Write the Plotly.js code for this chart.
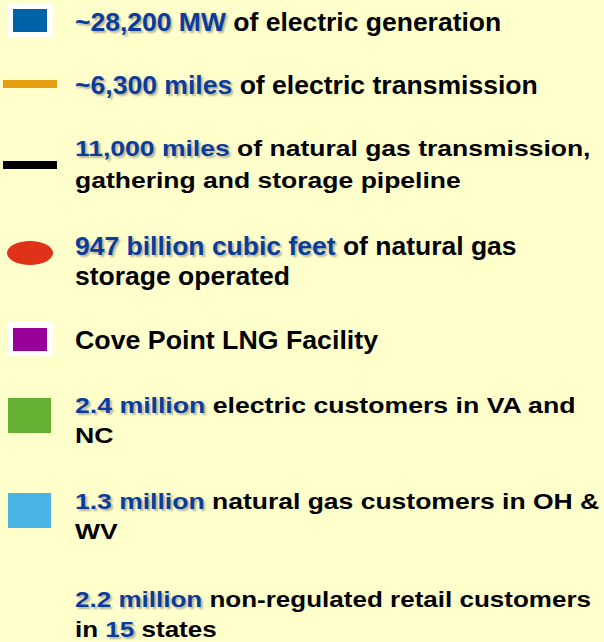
<!DOCTYPE html>
<html>
<head>
<meta charset="utf-8">
<script src="https://cdn.plot.ly/plotly-3.0.1.min.js"></script>
<style>
html,body{margin:0;padding:0;background:#FFFFCC;}
#chart{width:604px;height:642px;}
.annotation-text tspan[style*="fill"]{text-shadow:2px 2px 2px rgba(90,90,90,0.45);}
</style>
</head>
<body>
<div id="chart"></div>
<script>
// ---- data ----
const highlights = ["~28,200 MW", "~6,300 miles", "11,000 miles", "947 billion cubic feet", "", "2.4 million", "1.3 million", "2.2 million"];
const descriptions = [
  " of electric generation",
  " of electric transmission",
  " of natural gas transmission,<br>gathering and storage pipeline",
  " of natural gas<br>storage operated",
  "Cove Point LNG Facility",
  " electric customers in VA and<br>NC",
  " natural gas customers in OH &<br>WV",
  " non-regulated retail customers<br>in {15} states"
];
const symbols = ["boxedSquare", "line", "line", "ellipse", "boxedSquare", "square", "square", "none"];
const symbolColors = ["#0063AA", "#E49E10", "#000000", "#DF3219", "#990099", "#65B033", "#49B5E5", ""];

// ---- layout / style ----
const W = 604, H = 642;
const baselines = [[31], [94], [156, 188], [255, 285], [349], [413, 443], [509, 539], [607, 637]];
const rowFont = [25, 25, 21.5, 25, 25, 21.5, 21.5, 21.5];
const rowStretch = [1.06, 1.063, 1.233, 1.06, 1.07, 1.24, 1.233, 1.21];
const iconY = [20, 84, 165, 253, 339, 415, 510, 0];
const textX = 75;
const blue = "#0A3C9E";
const fontFam = "Liberation Sans, Arial, sans-serif";

function markup(s) {
  return s.replace(/\{(.*?)\}/g, (m, g) => `<span style="color:${blue}">${g}</span>`);
}

const annotations = [];
const annStretch = [];
const shapes = [];
for (let i = 0; i < highlights.length; i++) {
  const lines = descriptions[i].split("<br>");
  const fs = rowFont[i];
  lines.forEach((ln, k) => {
    let txt = markup(ln);
    if (k === 0 && highlights[i]) txt = `<span style="color:${blue}">${highlights[i]}</span>` + txt;
    annotations.push({x: textX, y: baselines[i][k] - 0.905 * fs, xref: "x", yref: "y", text: `<b>${txt}</b>`,
      showarrow: false, xanchor: "left", yanchor: "top", align: "left", borderpad: 0, borderwidth: 0,
      font: {family: fontFam, size: fs, color: "#000"}});
    annStretch.push(rowStretch[i]);
  });
  const c = symbolColors[i];
  const cy = iconY[i];
  if (symbols[i] === "boxedSquare") {
    shapes.push({type: "rect", xref: "x", yref: "y", x0: 7, x1: 53, y0: cy - 17, y1: cy + 17, fillcolor: "#FFFFFF", line: {width: 0}});
    shapes.push({type: "rect", xref: "x", yref: "y", x0: 13, x1: 47, y0: cy - 11, y1: cy + 12, fillcolor: c, line: {width: 0}});
  } else if (symbols[i] === "line") {
    shapes.push({type: "rect", xref: "x", yref: "y", x0: 3, x1: 57, y0: cy - 4, y1: cy + 4, fillcolor: c, line: {width: 0}});
  } else if (symbols[i] === "ellipse") {
    shapes.push({type: "circle", xref: "x", yref: "y", x0: 7, x1: 53, y0: cy - 12, y1: cy + 12, fillcolor: c, line: {width: 0}});
  } else if (symbols[i] === "square") {
    shapes.push({type: "rect", xref: "x", yref: "y", x0: 8, x1: 51, y0: cy - 17, y1: cy + 18, fillcolor: c, line: {width: 0}});
  }
}

const layout = {
  width: W, height: H,
  margin: {l: 0, r: 0, t: 0, b: 0},
  paper_bgcolor: "#FFFFCC", plot_bgcolor: "#FFFFCC",
  xaxis: {range: [0, W], visible: false, fixedrange: true},
  yaxis: {range: [H, 0], visible: false, fixedrange: true},
  showlegend: false,
  annotations: annotations,
  shapes: shapes
};
Plotly.newPlot("chart", [{x: [], y: [], type: "scatter"}], layout, {staticPlot: true, displayModeBar: false}).then(gd => {
  gd.querySelectorAll("g.annotation").forEach(g => {
    const idx = +g.getAttribute("data-index");
    const t = g.querySelector("text.annotation-text");
    if (!t || !annStretch[idx]) return;
    const bx = t.getBBox().x;
    const prev = t.getAttribute("transform") || "";
    t.setAttribute("transform", `translate(${bx},0) scale(${annStretch[idx]},1) translate(${-bx},0) ${prev}`);
  });
});
</script>
</body>
</html>
